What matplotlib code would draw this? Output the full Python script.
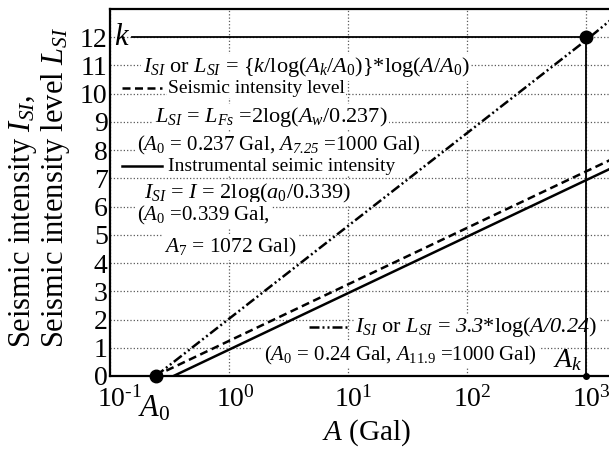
import matplotlib
matplotlib.use("Agg")
import matplotlib.pyplot as plt
from matplotlib.ticker import FixedLocator, NullFormatter, NullLocator

plt.rcParams["font.family"] = ["Liberation Serif", "DejaVu Serif"]
plt.rcParams["mathtext.fontset"] = "custom"
plt.rcParams["mathtext.rm"] = "Liberation Serif"
plt.rcParams["mathtext.it"] = "Liberation Serif:italic"
plt.rcParams["mathtext.bf"] = "Liberation Serif:bold"
# \mathsf used for italic digits (mathtext.it falls back to upright for non-letters)
plt.rcParams["mathtext.sf"] = "Liberation Serif:italic"

# acceleration A (Gal) vs. intensity, each line from its zero point through the stated anchor
jma_A = [0.339, 1072, 2000]
jma_I = [0, 7, 7.54]
lfs_A = [0.237, 1000, 2000]
lfs_L = [0, 7.25, 7.85]
lin_A = [0.24, 1000, 2000]
lin_I = [0, 11.9, 12.94]

k = 12
A_k = 1000
A_0 = 0.24

xticks = [0.1, 1, 10, 100, 1000]
xticklabels = [r"$10^{\text{-}1}$", "$10^{0}$", "$10^{1}$", "$10^{2}$", "$10^{3}$"]
yticks = list(range(0, 13))

fig = plt.figure(figsize=(6.09, 4.51), dpi=100)
ax = fig.add_axes([0.1814, 0.1663, 0.840, 0.8137])
ax.set_xscale("log")
ax.set_xlim(0.1, 2000)
ax.set_ylim(0, 13)

ax.xaxis.set_major_locator(FixedLocator(xticks))
ax.xaxis.set_major_formatter(NullFormatter())
ax.xaxis.set_minor_locator(NullLocator())
ax.set_yticks(yticks)
ax.tick_params(length=0, labelsize=20, pad=2)
ax.grid(True, linestyle=":", color="0.35", linewidth=0.9, zorder=0)
ax.set_axisbelow(True)
for s in ["left", "top", "bottom"]:
    ax.spines[s].set_linewidth(1.6)
ax.spines["right"].set_visible(False)

# decade labels, "10" centred on the gridline with the exponent hanging right
for x, lbl in zip(xticks, xticklabels):
    ax.annotate(lbl, xy=(x, 0), xycoords=("data", "axes fraction"),
                xytext=(-10, -7), textcoords="offset points",
                ha="left", va="top", fontsize=20)
ax.annotate("$A_0$", xy=(A_0, 0), xycoords=("data", "axes fraction"),
            xytext=(-1, -13), textcoords="offset points",
            ha="center", va="top", fontsize=22)

dashdotdot = (0, (4, 1.2, 0.8, 1.2, 0.8, 1.2))
dashed = (0, (3.2, 1.8))
ax.plot(lin_A, lin_I, color="k", lw=1.8, linestyle=dashdotdot, zorder=4)
ax.plot(lfs_A, lfs_L, color="k", lw=1.8, linestyle=dashed, zorder=4)
ax.plot(jma_A, jma_I, color="k", lw=1.8, linestyle="-", zorder=4)

# k and A_k reference lines
ax.plot([0.152, A_k], [k, k], color="k", lw=1.3, zorder=4)
ax.plot([A_k, A_k], [0, k], color="k", lw=1.3, zorder=4)
ax.plot([A_0], [0], "o", color="k", ms=9, clip_on=False, zorder=6)
ax.plot([A_k], [k], "o", color="k", ms=9, clip_on=False, zorder=6)
ax.plot([A_k], [0], "o", color="k", ms=4, clip_on=False, zorder=6)

box = dict(facecolor="white", edgecolor="none", pad=1.0)
def label(x, y, s, size=16, **kw):
    ax.text(x, y, s, fontsize=size, ha="left", va="center", bbox=box, zorder=3, **kw)

ax.text(0.107, k, "$k$", fontsize=22, ha="left", va="center", zorder=5)
label(0.186, 10.94, r"$I_{SI}$ or $L_{SI}$ = {$k$/log($A_k$/$A_0$)}*log($A$/$A_0$)")
label(0.305, 10.19, "Seismic intensity level", size=14)
label(0.236, 9.17, r"$L_{SI}$ = $L_{Fs}$ =2log($A_w$/0.237)")
label(0.166, 8.18, r"($A_0$ = 0.237 Gal, $A_{\mathsf{7.25}}$ =1000 Gal)", size=15)
label(0.305, 7.43, "Instrumental seimic intensity", size=14)
label(0.193, 6.48, r"$I_{SI}$ = $I$ = 2log($a_0$/0.339)")
label(0.166, 5.70, r"($A_0$ =0.339 Gal,", size=15)
label(0.283, 4.57, r"$A_7$ = 1072 Gal)", size=15.5)
label(11.4, 1.73, r"$I_{SI}$ or $L_{SI}$ = $\mathsf{3.3}$*log($\mathsf{A/0.24}$)")
label(1.97, 0.74, r"($A_0$ = 0.24 Gal, $A_{11.9}$ =1000 Gal)", size=15)
ax.text(A_k * 0.93, 0.12, "$A_k$", fontsize=20, ha="right", va="bottom", zorder=5)

# legend keys drawn in axes coordinates
keys = [((0.0225, 0.101), 0.784, dashed),
        ((0.0225, 0.101), 0.571, "-"),
        ((0.389, 0.462), 0.133, dashdotdot)]
for (x0, x1), yk, ls in keys:
    ax.plot([x0, x1], [yk, yk], transform=ax.transAxes, color="k", lw=1.8,
            linestyle=ls, zorder=5)

ax.set_xlabel("$A$ (Gal)", fontsize=21, labelpad=28)
ax.set_ylabel("Seismic intensity $I_{SI}$,\nSeismic intensity level $L_{SI}$",
              fontsize=22, linespacing=1.0, multialignment="left")
ax.yaxis.set_label_coords(-0.075, 0.514)

fig.savefig("out.png", dpi=100)
